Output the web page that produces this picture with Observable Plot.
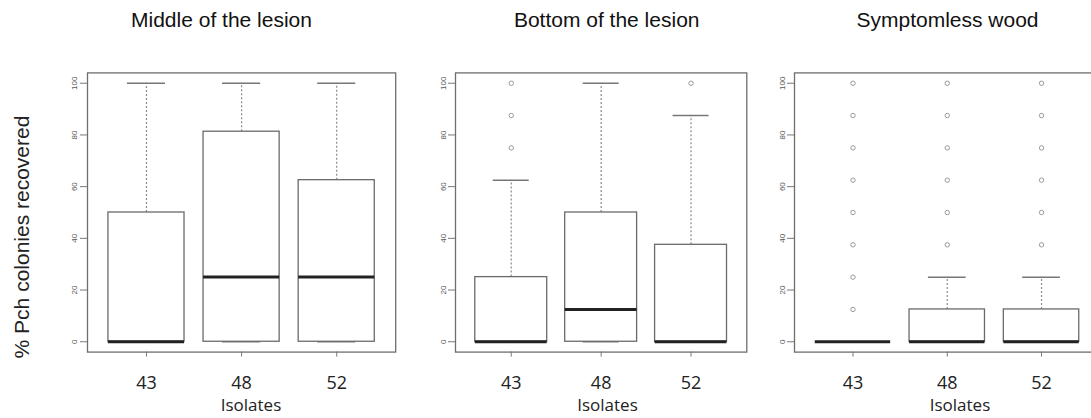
<!DOCTYPE html>
<html><head><meta charset="utf-8">
<script src="https://cdn.jsdelivr.net/npm/d3@7"></script>
<script src="https://cdn.jsdelivr.net/npm/@observablehq/plot@0.6"></script>
<style>
html,body{margin:0;padding:0;background:#fff;overflow:hidden;}
#root{position:relative;width:1091px;height:418px;overflow:hidden;background:#fff;}
.t{position:absolute;white-space:nowrap;line-height:1;color:#111;}
.panel{position:absolute;top:0;}
</style></head><body><div id="root"></div>
<script>
// ---- data ----
const isolates = ["43", "48", "52"];
const panelTitles = ["Middle of the lesion", "Bottom of the lesion", "Symptomless wood"];
const yTitle = "% Pch colonies recovered";
const xTitle = "Isolates";
const yTicks = [0, 20, 40, 60, 80, 100];
// per panel, per isolate
const lowerWhisker = [[0, 0, 0], [0, 0, 0], [0, 0, 0]];
const q1 = [[0, 0, 0], [0, 0, 0], [0, 0, 0]];
const median = [[0, 25, 25], [0, 12.5, 0], [0, 0, 0]];
const q3 = [[50, 81.25, 62.5], [25, 50, 37.5], [0, 12.5, 12.5]];
const upperWhisker = [[100, 100, 100], [62.5, 100, 87.5], [0, 25, 25]];
const outliers = [
  [[], [], []],
  [[75, 87.5, 100], [], [100]],
  [[12.5, 25, 37.5, 50, 62.5, 75, 87.5, 100], [37.5, 50, 62.5, 75, 87.5, 100], [37.5, 50, 62.5, 75, 87.5, 100]]
];

// ---- layout ----
const frameLeft = [86.8, 455.2, 793.5];
const frameRight = [395, 746.5, 1099];
const titleCenter = [221.5, 606.7, 947.5];
const xTitleCenter = [251, 607.5, 960];
const mL = 40, mR = 5, mT = 72.4, mB = 66.4, H = 418;
const boxwex = 0.8;

const root = document.getElementById("root");

panelTitles.forEach((title, p) => {
  const stats = isolates.map((iso, i) => ({
    pos: i + 1, iso,
    lo: lowerWhisker[p][i], q1: q1[p][i], med: median[p][i], q3: q3[p][i], hi: upperWhisker[p][i]
  }));
  const outs = isolates.flatMap((iso, i) => outliers[p][i].map(v => ({pos: i + 1, value: v})));
  const half = boxwex / 2, cap = boxwex / 4;
  const chart = Plot.plot({
    width: frameRight[p] - frameLeft[p] + mL + mR,
    height: H,
    marginLeft: mL, marginRight: mR, marginTop: mT, marginBottom: mB,
    x: {domain: [0.38, 3.62]},
    y: {domain: [-4, 104]},
    style: {fontFamily: "Liberation Sans, Arial, sans-serif", background: "transparent"},
    marks: [
      Plot.frame({stroke: "#6e6e6e", strokeWidth: 1.3}),
      Plot.ruleX(stats, {x: "pos", y1: "q3", y2: "hi", stroke: "#8a8a8a", strokeWidth: 1.2, strokeDasharray: "2,2"}),
      Plot.ruleX(stats, {x: "pos", y1: "lo", y2: "q1", stroke: "#8a8a8a", strokeWidth: 1.2, strokeDasharray: "2,2"}),
      Plot.ruleY(stats, {y: "hi", x1: d => d.pos - cap, x2: d => d.pos + cap, stroke: "#777", strokeWidth: 1.5}),
      Plot.ruleY(stats, {y: "lo", x1: d => d.pos - cap, x2: d => d.pos + cap, stroke: "#777", strokeWidth: 1.5}),
      Plot.rect(stats, {x1: d => d.pos - half, x2: d => d.pos + half, y1: "q1", y2: "q3", fill: "white", stroke: "#6a6a6a", strokeWidth: 1.3}),
      Plot.ruleY(stats, {y: "med", x1: d => d.pos - half, x2: d => d.pos + half, stroke: "#222", strokeWidth: 3}),
      Plot.dot(outs, {x: "pos", y: "value", r: 2.2, stroke: "#9a9a9a", fill: "none", strokeWidth: 1}),
      Plot.axisY({ticks: yTicks, tickSize: 7, tickPadding: 3, tickRotate: -90, fontSize: 8, stroke: "#777", fill: "#555", label: null}),
      Plot.axisX({ticks: [1, 2, 3], tickFormat: d => isolates[d - 1], tickSize: 5, tickPadding: 19, fontSize: 18,
                  fontFamily: "Open Sans", stroke: "#777", fill: "#222", label: null})
    ]
  });
  chart.classList.add("panel");
  chart.style.left = (frameLeft[p] - mL) + "px";
  root.appendChild(chart);

  const t = document.createElement("div");
  t.className = "t";
  t.textContent = title;
  t.style.cssText += `font-family: 'Liberation Sans', Arial, sans-serif; font-size:21px; left:${titleCenter[p]}px; top:9px; transform:translateX(-50%);`;
  root.appendChild(t);

  const xt = document.createElement("div");
  xt.className = "t";
  xt.textContent = xTitle;
  xt.style.cssText += `font-family: 'Open Sans', sans-serif; font-size:17px; left:${xTitleCenter[p]}px; top:396px; transform:translateX(-50%); color:#222;`;
  root.appendChild(xt);
});

const yt = document.createElement("div");
yt.className = "t";
yt.textContent = yTitle;
yt.style.cssText += `font-family: 'Liberation Sans', Arial, sans-serif; font-size:21px; left:21px; top:236.5px; transform:translate(-50%,-50%) rotate(-90deg); color:#222;`;
root.appendChild(yt);
</script></body></html>
